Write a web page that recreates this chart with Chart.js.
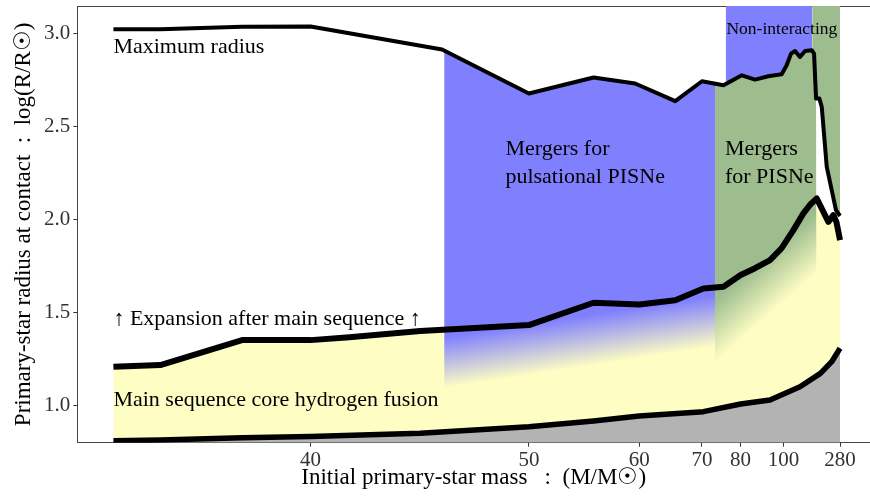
<!DOCTYPE html>
<html>
<head>
<meta charset="utf-8">
<script src="https://cdn.jsdelivr.net/npm/chart.js@4.4.1/dist/chart.umd.min.js"></script>
<style>
  html, body { margin: 0; padding: 0; background: #fff; }
  #wrap { width: 870px; height: 498px; }
</style>
</head>
<body>
<div id="wrap"><canvas id="chart" width="870" height="498"></canvas></div>
<script>
// Curves: initial primary mass (Msun) -> log(R/Rsun)
const topMass = [35, 36, 38, 40, 45.1, 50, 55.1, 59.5, 65.1, 70, 75, 80.4, 85.2, 91.1, 98.8, 102.3, 105.7, 109.2, 114.1, 120, 129.5, 133.5, 137.3, 144.4, 150.4, 166.3, 189.5, 222, 280];
const topLogR = [3.025, 3.025, 3.038, 3.04, 2.916, 2.679, 2.765, 2.733, 2.638, 2.745, 2.724, 2.777, 2.754, 2.772, 2.783, 2.831, 2.894, 2.908, 2.876, 2.908, 2.912, 2.894, 2.652, 2.652, 2.607, 2.284, 2.159, 2.051, 2.02];

const midMass = [35, 36, 38, 40, 41.3, 44.1, 50, 55.1, 60, 65.1, 70.3, 75, 80, 85.2, 92, 98.8, 107.7, 117.9, 128, 138.7, 172.8, 200, 225.9, 280];
const midLogR = [1.209, 1.218, 1.352, 1.352, 1.367, 1.401, 1.433, 1.553, 1.544, 1.567, 1.63, 1.639, 1.702, 1.739, 1.783, 1.847, 1.944, 2.034, 2.085, 2.114, 1.988, 2.025, 1.988, 1.89];

const botMass = [35, 36, 38, 40, 44.1, 50, 55.1, 60, 70.3, 80, 92, 114.1, 147, 189.5, 280];
const botLogR = [0.811, 0.814, 0.826, 0.833, 0.851, 0.886, 0.917, 0.944, 0.967, 1.008, 1.03, 1.101, 1.173, 1.236, 1.308];

// Shaded regions: mass edges and the maximum-radius value at each edge
const pulsEdgeMass = [45.2, 72.9];
const pulsEdgeLogR = [2.911, 2.732];
const pisnEdgeMass = [72.9, 138.7];
const pisnEdgeLogR = [2.732, 2.652];
const niBlueEdgeMass = [75.6, 130.3];
const niBlueEdgeLogR = [2.731, 2.907];
const niGreenEdgeMass = [130.3, 280];
const niGreenEdgeLogR = [2.907, 2.02];

const massTicks = [40, 50, 60, 70, 80, 100, 280];
const logRTicks = [1.0, 1.5, 2.0, 2.5, 3.0];

const BLUE = '128,128,255';
const GREEN = '158,189,143';
const YELLOW = '#fdfdc4';
const GREY = '#b3b3b3';
const SERIF = "'Liberation Serif', 'DejaVu Serif', serif";

// Mass axis of the figure is compressed like -M^-p; a tiny custom scale does that.
class PowerMassScale extends Chart.Scale {
    determineDataLimits() {
        this.min = this.options.min;
        this.max = this.options.max;
    }
    buildTicks() {
        return (this.options.massTicks || []).map(v => ({ value: v }));
    }
    getLabelForValue(v) { return String(v); }
    configure() {
        super.configure();
        const p = this.options.exponent;
        this._tf = v => -Math.pow(v, -p);
        this._t0 = this._tf(this.min);
        this._span = (this._tf(this.max) - this._t0) * (1 + this.options.endPad);
    }
    getPixelForValue(v) {
        return this.getPixelForDecimal((this._tf(v) - this._t0) / this._span);
    }
    getValueForPixel(px) {
        const t = this._t0 + this.getDecimalForPixel(px) * this._span;
        return Math.pow(-t, -1 / this.options.exponent);
    }
}
PowerMassScale.id = 'powmass';
PowerMassScale.defaults = {};
Chart.register(PowerMassScale);

const pts = (ms, vs) => ms.map((m, i) => ({ x: m, y: vs[i] }));

function topSlice(edgeM, edgeR) {
    const inner = pts(topMass, topLogR).filter(p => p.x > edgeM[0] && p.x < edgeM[1]);
    return [{ x: edgeM[0], y: edgeR[0] }, ...inner, { x: edgeM[1], y: edgeR[1] }];
}

// Colour that fades out below the expansion line (gradient across a chord of that line).
function fadeFill(chart, rgb, a, b, s0, s1) {
    const { chartArea, scales } = chart;
    if (!chartArea) return `rgb(${rgb})`;
    const ax = scales.x.getPixelForValue(a[0]), ay = scales.y.getPixelForValue(a[1]);
    const bx = scales.x.getPixelForValue(b[0]), by = scales.y.getPixelForValue(b[1]);
    const len = Math.hypot(bx - ax, by - ay);
    const nx = -(by - ay) / len, ny = (bx - ax) / len;
    const g = chart.ctx.createLinearGradient(ax + nx * s0, ay + ny * s0, ax + nx * s1, ay + ny * s1);
    g.addColorStop(0, `rgba(${rgb},1)`);
    g.addColorStop(0.5, `rgba(${rgb},0.5)`);
    g.addColorStop(1, `rgba(${rgb},0)`);
    return g;
}

function curve(data, width) {
    return { data, borderColor: '#000', borderWidth: width, fill: false, order: 0 };
}
function area(data, fill, backgroundColor) {
    return { data, borderWidth: 0, borderColor: 'rgba(0,0,0,0)', fill, backgroundColor, order: 1 };
}

const notes = [
    { text: 'Maximum radius', m: 35.0, r: 2.899, size: 22 },
    { text: 'Mergers for', m: 48.5, r: 2.347, size: 22 },
    { text: 'pulsational PISNe', m: 48.5, r: 2.195, size: 22 },
    { text: 'Mergers', m: 75.4, r: 2.347, size: 22 },
    { text: 'for PISNe', m: 75.4, r: 2.2, size: 22 },
    { text: 'Non-interacting', m: 75.8, r: 3.002, size: 17.5 },
    { text: '\u2191 Expansion after main sequence \u2191', m: 35.0, r: 1.433, size: 22 },
    { text: 'Main sequence core hydrogen fusion', m: 35.0, r: 0.997, size: 22 },
];

const notePlugin = {
    id: 'notes',
    afterDatasetsDraw(chart) {
        const { ctx, scales } = chart;
        ctx.save();
        ctx.fillStyle = '#000';
        ctx.textAlign = 'left';
        ctx.textBaseline = 'alphabetic';
        notes.forEach(n => {
            ctx.font = `${n.size}px ${SERIF}`;
            ctx.fillText(n.text, scales.x.getPixelForValue(n.m), scales.y.getPixelForValue(n.r));
        });
        ctx.restore();
    }
};

new Chart(document.getElementById('chart'), {
    type: 'line',
    data: {
        datasets: [
            curve(pts(topMass, topLogR), 4),
            curve(pts(midMass, midLogR), 6),
            curve(pts(botMass, botLogR), 5.5),
            area(topSlice(niGreenEdgeMass, niGreenEdgeLogR), 'end', `rgb(${GREEN})`),
            area(topSlice(niBlueEdgeMass, niBlueEdgeLogR), 'end', `rgb(${BLUE})`),
            area(topSlice(pisnEdgeMass, pisnEdgeLogR), 'start',
                c => fadeFill(c.chart, GREEN, [72.9, 1.635], [138.7, 2.114], 10, 56)),
            area(topSlice(pulsEdgeMass, pulsEdgeLogR), 'start',
                c => fadeFill(c.chart, BLUE, [45.2, 1.41], [72.9, 1.635], 8, 58)),
            area(pts(midMass, midLogR), 2, YELLOW),
            area(pts(botMass, botLogR), 'start', GREY),
        ],
    },
    options: {
        responsive: false,
        animation: false,
        events: [],
        layout: { padding: { top: 6, right: 0, bottom: 0, left: 0 } },
        elements: {
            point: { radius: 0 },
            line: { tension: 0, borderJoinStyle: 'round', borderCapStyle: 'butt' },
        },
        plugins: {
            legend: { display: false },
            tooltip: { enabled: false },
            filler: { drawTime: 'beforeDatasetsDraw', propagate: false },
        },
        scales: {
            x: {
                type: 'powmass',
                position: 'bottom',
                min: 34.29,
                max: 280,
                exponent: 2.35,
                endPad: 0.0393,
                massTicks,
                afterFit: s => { s.height = 55.3; },
                grid: { drawOnChartArea: false, tickLength: 4, color: '#333' },
                border: { display: true, color: '#444', width: 1 },
                ticks: { autoSkip: false, maxRotation: 0, padding: 1, color: '#333', font: { family: SERIF, size: 21 } },
                title: {
                    display: true,
                    text: 'Initial primary-star mass   :  (M/M\u2609)',
                    color: '#000',
                    font: { family: SERIF, size: 23 },
                    padding: { top: 0, bottom: 6 },
                },
            },
            xTop: {
                type: 'linear',
                axis: 'x',
                position: 'top',
                ticks: { display: false },
                grid: { drawOnChartArea: false, drawTicks: false },
                border: { display: true, color: '#444', width: 1 },
            },
            y: {
                type: 'linear',
                min: 0.8,
                max: 3.15,
                afterBuildTicks: s => { s.ticks = logRTicks.map(v => ({ value: v })); },
                afterFit: s => { s.width = 77.3; s.paddingTop = 0; s.paddingBottom = 0; },
                grid: { drawOnChartArea: false, tickLength: 4, color: '#333' },
                border: { display: true, color: '#444', width: 1 },
                ticks: { padding: 3, color: '#333', font: { family: SERIF, size: 21 }, callback: v => Number(v).toFixed(1) },
                title: {
                    display: true,
                    text: 'Primary-star radius at contact  :  log(R/R\u2609)',
                    color: '#000',
                    font: { family: SERIF, size: 23 },
                    padding: { top: 10, bottom: 0 },
                },
            },
        },
    },
    plugins: [notePlugin],
});
</script>
</body>
</html>
